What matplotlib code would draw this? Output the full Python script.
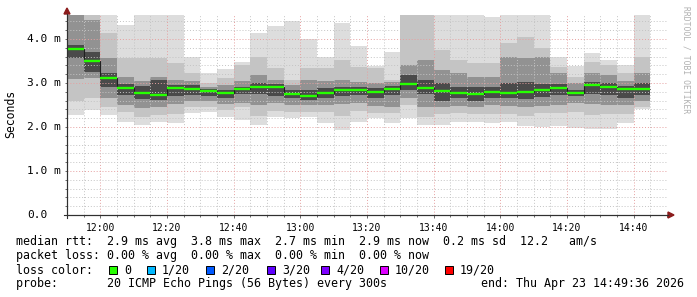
import numpy as np
import matplotlib
matplotlib.use("Agg")
import matplotlib.pyplot as plt
from matplotlib.ticker import MultipleLocator, FuncFormatter
from matplotlib.patches import Rectangle, Polygon

# --- data: one 5 minute step per bar, values in ms ---
# smoke layers, top to bottom
t_first = 11 * 60 + 50      # 11:50
t_step = 5

rtt_top = [4.80, 4.70, 4.60, 4.32, 4.65, 4.65, 4.65, 3.58, 3.22, 3.31, 3.48, 4.13,
           4.30, 4.41, 3.99, 3.58, 4.37, 3.84, 3.39, 3.71, 4.65, 4.65, 4.65, 4.65,
           4.65, 4.49, 4.65, 4.65, 4.65, 3.58, 3.39, 3.69, 3.52, 3.42, 4.65]
outer_hi = [4.70, 4.60, 4.13, 3.56, 3.56, 3.56, 3.45, 3.22, 3.00, 3.11, 3.41, 3.60,
            3.33, 3.07, 3.33, 3.33, 3.52, 3.37, 3.33, 3.07, 4.58, 4.58, 3.75, 3.52,
            3.45, 3.45, 3.90, 4.05, 3.79, 3.37, 3.14, 3.48, 3.41, 3.22, 3.60]
mid_hi = [4.65, 4.43, 3.56, 3.14, 3.05, 3.14, 3.07, 3.05, 2.92, 2.96, 3.05, 3.18,
          3.07, 2.96, 3.07, 3.05, 3.07, 3.03, 3.00, 3.03, 3.41, 3.52, 3.30, 3.22,
          3.14, 3.14, 3.60, 3.56, 3.60, 3.22, 3.00, 3.22, 3.18, 3.05, 3.22]
core_hi = [3.86, 3.70, 3.22, 2.98, 2.94, 3.07, 2.96, 2.95, 2.87, 2.85, 2.92, 3.00,
           2.98, 2.85, 2.85, 2.88, 2.92, 2.92, 2.88, 2.93, 3.18, 3.07, 3.00, 2.92,
           2.90, 2.92, 3.00, 3.03, 2.98, 2.98, 2.85, 3.03, 3.00, 2.93, 3.00]
rtt_median = [3.78, 3.51, 3.11, 2.89, 2.77, 2.73, 2.89, 2.87, 2.82, 2.77, 2.86, 2.90,
              2.92, 2.76, 2.71, 2.77, 2.83, 2.84, 2.80, 2.87, 2.98, 2.89, 2.82, 2.77,
              2.75, 2.80, 2.78, 2.80, 2.83, 2.88, 2.78, 2.95, 2.91, 2.86, 2.87]
core_lo = [3.56, 3.26, 2.92, 2.73, 2.64, 2.62, 2.70, 2.73, 2.70, 2.67, 2.74, 2.75,
           2.70, 2.65, 2.62, 2.67, 2.70, 2.73, 2.67, 2.73, 2.83, 2.74, 2.60, 2.67,
           2.60, 2.67, 2.67, 2.64, 2.68, 2.73, 2.70, 2.74, 2.72, 2.65, 2.73]
mid_lo = [3.08, 3.11, 2.65, 2.50, 2.44, 2.45, 2.52, 2.58, 2.58, 2.52, 2.55, 2.50,
          2.55, 2.50, 2.50, 2.50, 2.52, 2.55, 2.48, 2.45, 2.65, 2.45, 2.45, 2.48,
          2.45, 2.50, 2.48, 2.45, 2.48, 2.50, 2.55, 2.52, 2.50, 2.50, 2.58]
outer_lo = [2.58, 2.65, 2.46, 2.35, 2.23, 2.27, 2.30, 2.45, 2.45, 2.39, 2.45, 2.25,
            2.36, 2.35, 2.35, 2.33, 2.25, 2.36, 2.32, 2.32, 2.50, 2.23, 2.30, 2.32,
            2.30, 2.30, 2.30, 2.25, 2.32, 2.32, 2.33, 2.27, 2.30, 2.30, 2.45]
rtt_bottom = [2.27, 2.39, 2.28, 2.12, 2.05, 2.12, 2.10, 2.31, 2.33, 2.23, 2.16, 2.05,
              2.23, 2.20, 2.23, 2.10, 1.93, 2.12, 2.20, 2.10, 2.20, 2.05, 2.05, 2.12,
              2.12, 2.08, 2.12, 2.02, 2.00, 2.03, 1.97, 1.95, 1.95, 2.09, 2.40]

y_ticks = [0, 1, 2, 3, 4]
y_tick_labels = ["0.0", "1.0 m", "2.0 m", "3.0 m", "4.0 m"]

loss_labels = ["0", "1/20", "2/20", "3/20", "4/20", "10/20", "19/20"]
loss_colors = ["#26ff00", "#00b8ff", "#0059ff", "#5e00ff", "#7e00ff", "#dd00ff", "#ff0000"]

stat_lines = [
    "median rtt:  2.9 ms avg  3.8 ms max  2.7 ms min  2.9 ms now  0.2 ms sd  12.2   am/s",
    "packet loss: 0.00 % avg  0.00 % max  0.00 % min  0.00 % now",
    "loss color:",
    "probe:       20 ICMP Echo Pings (56 Bytes) every 300s",
]
end_text = "end: Thu Apr 23 14:49:36 2026"

# --- figure ---
W, H = 697, 297
MONO = "DejaVu Sans Mono"


def fx(x):
    return x / W


def fy(y):
    return 1 - y / H


fig = plt.figure(figsize=(W / 100, H / 100), dpi=100, facecolor="white")
ax = fig.add_axes([fx(67), fy(215), 600 / W, 200 / H])

times = t_first + t_step * np.arange(len(rtt_median))
edges = np.append(times, times[-1] + t_step)

# smoke bands: lightest outside, darkest around the median
bands = [
    (rtt_bottom, outer_lo, "#dddddd"),
    (outer_lo, mid_lo, "#c4c4c4"),
    (mid_lo, core_lo, "#929292"),
    (core_lo, core_hi, "#4a4a4a"),
    (core_hi, mid_hi, "#929292"),
    (mid_hi, outer_hi, "#c4c4c4"),
    (outer_hi, rtt_top, "#dddddd"),
]
for lo, hi, col in bands:
    lo = np.array(lo)
    hi = np.array(hi)
    ax.bar(times, hi - lo, bottom=lo, width=t_step, align="edge",
           color=col, linewidth=0, zorder=1)

ax.stairs(rtt_median, edges, baseline=None, color="#202020", lw=0.8, zorder=3)
ax.hlines(rtt_median, edges[:-1], edges[1:], color=loss_colors[0], lw=1.7, zorder=4)

ax.set_xlim(710, 890)
ax.set_ylim(0, 4.545)

ax.xaxis.set_major_locator(MultipleLocator(20))
ax.xaxis.set_minor_locator(MultipleLocator(5))
ax.yaxis.set_major_locator(MultipleLocator(1))
ax.yaxis.set_minor_locator(MultipleLocator(0.2))
ax.xaxis.set_major_formatter(FuncFormatter(lambda v, p: f"{int(v) // 60:02d}:{int(v) % 60:02d}"))
ax.set_yticklabels([])

ax.set_axisbelow(False)
ax.grid(which="minor", color="#c4c4c4", linestyle=(0, (1, 2)), lw=0.7)
ax.grid(which="major", color="#e6a0a0", linestyle=(0, (1, 2)), lw=0.7)

for s in ["top", "right"]:
    ax.spines[s].set_visible(False)
for s in ["left", "bottom"]:
    ax.spines[s].set_color("#303030")
    ax.spines[s].set_linewidth(0.8)

ax.tick_params(axis="x", which="major", length=2.5, width=0.6, color="#505050",
               labelsize=7, pad=3)
ax.tick_params(axis="x", which="minor", length=1.5, width=0.6, color="#505050")
ax.tick_params(axis="y", which="both", length=1.5, width=0.6, color="#505050")
for lab in ax.get_xticklabels():
    lab.set_fontfamily(MONO)

for v, lab in zip(y_ticks, y_tick_labels):
    ax.text(-40 / 600, v, lab, transform=ax.get_yaxis_transform(), ha="left",
            va="center", fontsize=8, family=MONO)

# axis arrows
arrow_col = "#8b1c1c"
fig.add_artist(Polygon([(fx(668), fy(212)), (fx(674), fy(215)), (fx(668), fy(218))],
                       closed=True, transform=fig.transFigure, color=arrow_col))
fig.add_artist(Polygon([(fx(64), fy(14)), (fx(67), fy(8)), (fx(70), fy(14))],
                       closed=True, transform=fig.transFigure, color=arrow_col))
fig.add_artist(plt.Line2D([fx(64), fx(668)], [fy(215), fy(215)],
                          transform=fig.transFigure, color="#303030", lw=0.8))
fig.add_artist(plt.Line2D([fx(67), fx(67)], [fy(218), fy(14)],
                          transform=fig.transFigure, color="#303030", lw=0.8))

fig.text(fx(11), fy(114), "Seconds", rotation=90, ha="center", va="center",
         fontsize=8.3, family=MONO)
fig.text(fx(686), fy(60), "RRDTOOL / TOBI OETIKER", rotation=270, ha="center",
         va="center", fontsize=5.8, family=MONO, color="#b0b0b0")

# legend / stats block
line_y = [241, 255, 270, 284]
for txt, yy in zip(stat_lines, line_y):
    fig.text(fx(16), fy(yy), txt, ha="left", va="center", fontsize=8.4, family=MONO)
fig.text(fx(684), fy(284), end_text, ha="right", va="center", fontsize=8.4, family=MONO)

box_x = [109, 147, 206, 267, 321, 380, 445]
for bx, lab, col in zip(box_x, loss_labels, loss_colors):
    fig.add_artist(Rectangle((fx(bx), fy(274)), 8 / W, 8 / H, transform=fig.transFigure,
                             facecolor=col, edgecolor="black", lw=0.7))
    fig.text(fx(bx + 15), fy(270), lab, ha="left", va="center", fontsize=8.4, family=MONO)

fig.savefig("out.png", dpi=100, facecolor="white")
